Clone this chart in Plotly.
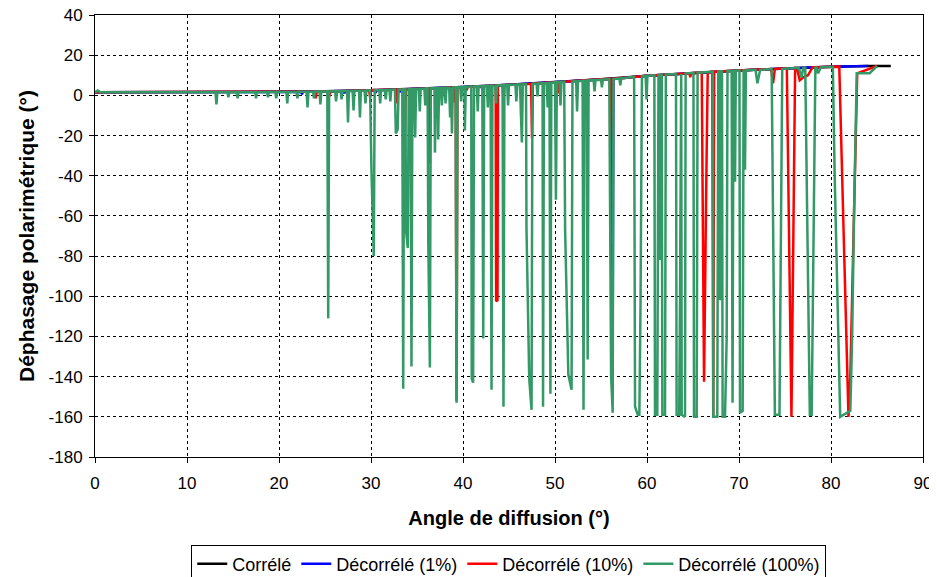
import plotly.graph_objects as go

# ---- data (angle in degrees, phase in degrees) ----
corr_pts = [(0, 1.5), (10, 1.6), (20, 1.7), (25, 2.0), (30, 2.5), (35, 3.3), (40, 4.2), (45, 5.3),
            (50, 6.6), (55, 8.0), (60, 9.8), (65, 11.2), (70, 12.4), (75, 13.4), (80, 14.3),
            (84, 14.6), (86.5, 14.6)]

dec1_pts = [(0, 1.5), (10, 1.6), (20, 1.7), (22.4, 1.8), (22.5, 0.5), (22.6, 1.8), (25, 2.0),
            (27.0, 2.2), (27.1, 1.0), (27.2, 2.2), (30, 2.5), (30.4, 2.6), (30.5, 1.2), (30.6, 2.6),
            (33.0, 2.9), (33.1, 1.5), (33.2, 2.9), (35, 3.3), (38.4, 3.9), (38.5, 2.5), (38.6, 3.9),
            (40, 4.2), (42.0, 4.6), (42.1, 3.0), (42.2, 4.6), (45, 5.3), (50, 6.6), (55, 8.0),
            (56.15, 8.2), (56.25, -151), (56.35, 8.2), (60, 9.8), (65, 11.2), (70, 12.4),
            (75, 13.4), (80, 14.3), (84, 14.6)]

dec10_pts = [(0, 1.5), (10, 1.6), (20, 1.7), (23.9, 1.9), (24.0, -1.5), (24.1, 1.9), (25.4, 2.0),
             (25.5, -0.5), (25.6, 2.0), (29.8, 2.5), (29.9, -1), (30.0, 2.5), (32.7, 2.9), (32.8, -4),
             (32.9, 2.9), (33.6, 3.0), (33.7, -16), (33.8, 3.0), (34.5, 3.1), (34.6, -1), (34.7, 3.1),
             (36.3, 3.5), (36.4, -34), (36.5, 3.5), (37.6, 3.7), (37.7, -1), (37.8, 3.7), (39.0, 4.0),
             (39.1, -3.5), (39.2, 4.0), (39.3, -152), (39.4, 4.0), (40.3, 4.2), (40.4, 2.5), (40.5, 4.2),
             (43.55, 4.9), (43.6, -102.5), (43.75, -102), (43.8, 4.9), (44.3, 5.1), (44.4, -3.5),
             (44.5, 5.1), (47.4, 5.8), (47.5, -21.5), (47.6, 5.8), (50.2, 6.6), (50.3, 1), (50.4, 6.6),
             (55, 8.0), (56.1, 8.2), (56.2, -74), (56.3, 8.2), (60, 9.8), (64.6, 11.0), (64.7, 9),
             (64.8, 11.0), (65.95, 11.4), (66.05, -41), (66.2, -142.5), (66.45, -41), (66.6, 11.5),
             (67.1, 11.8), (67.2, -160), (67.3, 11.8), (70, 12.4), (73.5, 13.1), (73.7, 6), (73.9, 13.2),
             (75.2, 13.5), (75.7, -160), (76.1, 13.6), (76.3, 13.6), (76.6, 7.5), (77.0, 9), (77.5, 10),
             (78.0, 14.0), (80.9, 14.3), (81.3, -60), (81.9, -160), (82.1, -140), (82.5, -60),
             (82.7, -8), (82.85, 11), (85.0, 14.6)]

dec100_pts = [(0, 1.5), (0.3, 2.4), (0.6, 1.5),
              (13.1, 1.6), (13.2, -4.5), (13.3, 1.6), (14.4, 1.6), (14.5, -1), (14.6, 1.6),
              (15.4, 1.6), (15.5, -1.5), (15.6, 1.6), (17.4, 1.6), (17.5, -1.5), (17.6, 1.6),
              (18.7, 1.7), (18.8, -1), (18.9, 1.7), (19.6, 1.7), (19.7, -1.5), (19.8, 1.7),
              (20.8, 1.7), (20.9, -4), (21.0, 1.7), (21.9, 1.8), (22.0, -1.5), (22.1, 1.8),
              (23.0, 1.8), (23.1, -6), (23.2, 1.8), (23.7, 1.9), (23.8, -1.5), (23.9, 1.9),
              (24.4, 1.9), (24.5, -4.5), (24.6, 1.9), (25.25, 2.0), (25.35, -111), (25.45, 2.0),
              (26.1, 2.1), (26.2, -3), (26.3, 2.1), (26.7, 2.2), (26.8, -2), (26.9, 2.2),
              (27.4, 2.2), (27.5, -13.5), (27.6, 2.2), (28.0, 2.3), (28.1, -7.5), (28.2, 2.3),
              (28.7, 2.3), (28.8, -11), (28.9, 2.3), (29.3, 2.4), (29.4, -4), (29.5, 2.4),
              (29.9, 2.5), (30.05, -37), (30.3, -80), (30.4, 2.5), (30.9, 2.6), (31.0, -4), (31.1, 2.6),
              (31.5, 2.7), (31.6, -2), (31.7, 2.7), (32.0, 2.8), (32.1, -3), (32.2, 2.8),
              (32.6, 2.9), (32.7, -19), (32.9, -17), (33.0, 2.9), (33.4, 3.0), (33.5, -146), (33.6, 3.0),
              (33.75, 3.0), (33.8, -67), (34.0, -76), (34.1, 3.1), (34.3, 3.1), (34.4, -135), (34.5, 3.1),
              (34.7, 3.1), (34.8, -21), (34.9, 3.2), (35.2, 3.2), (35.3, -8), (35.4, 3.3),
              (35.8, 3.4), (35.9, -5), (36.0, 3.5), (36.15, 3.5), (36.23, -74), (36.4, -135.5), (36.5, 3.5),
              (36.9, 3.6), (36.95, -28.5), (37.05, 3.6), (37.25, 3.6), (37.3, -22), (37.4, 3.6),
              (37.6, 3.7), (37.7, -5), (37.8, 3.7), (38.0, 3.8), (38.1, -4), (38.2, 3.8),
              (38.5, 3.9), (38.6, -11), (38.7, 3.9), (38.8, -19), (38.9, 3.9), (39.2, 4.0), (39.3, -153),
              (39.4, 4.0), (39.7, 4.1), (39.8, -3), (39.9, 4.1), (40.15, 4.2), (40.2, -17.5), (40.3, 4.2),
              (40.9, 4.4), (40.95, -141), (41.1, -143), (41.2, 4.4), (41.5, 4.5), (41.6, -8), (41.7, 4.5),
              (42.1, 4.6), (42.2, -121), (42.3, 4.6), (42.6, 4.7), (42.7, -6), (42.8, 4.7),
              (43.0, 4.8), (43.1, -146.5), (43.2, 4.8), (43.5, 4.9), (43.6, -4), (43.7, 4.9),
              (44.3, 5.1), (44.4, -155), (44.5, 5.1), (44.8, 5.2), (44.9, -5), (45.0, 5.2),
              (45.7, 5.4), (45.8, -3), (45.9, 5.4), (46.2, 5.5), (46.3, -10), (46.4, -23.5), (46.5, 5.5),
              (46.85, 5.6), (46.9, -66), (47.2, -141), (47.45, -156.5), (47.55, 5.8),
              (48.0, 5.9), (48.1, -0.5), (48.2, 5.9), (48.65, 6.0), (48.7, -155), (48.8, 6.0),
              (49.1, 6.1), (49.2, -6), (49.3, 6.1), (49.4, 6.2), (49.5, -148.5), (49.6, 6.2),
              (50.0, 6.6), (50.1, -52), (50.2, 6.6), (50.5, 6.7), (50.6, -5), (50.7, 6.7),
              (51.0, 6.8), (51.1, -67), (51.45, -139), (51.8, -146.5), (51.9, 6.9),
              (52.3, 7.0), (52.4, -8), (52.5, 7.0), (53.0, 7.3), (53.1, -156.5), (53.2, 7.3),
              (53.45, 7.4), (53.55, -131.5), (53.65, 7.4), (54.2, 7.6), (54.3, 2), (54.4, 7.6),
              (55.0, 7.8), (55.1, 4), (55.2, 7.8), (55.9, 8.1), (56.0, -67), (56.1, -140), (56.27, -158),
              (56.35, 8.2), (57.0, 8.4), (57.1, 5), (57.2, 8.4),
              (58.6, 9.2), (58.7, -155), (59.0, -159), (59.17, -159), (59.3, -102), (59.45, 9.4),
              (59.85, 9.7), (59.95, -2), (60.05, 9.8), (60.8, 10.0), (60.87, -159), (61.12, -159),
              (61.25, 10.1), (61.35, 10.1), (61.41, -82), (61.5, 10.2), (61.6, 10.2), (61.67, -159),
              (61.96, -159), (62.05, 10.4), (63.15, 10.6), (63.22, -159), (63.5, -159), (63.59, -100),
              (63.68, 10.8), (63.72, 10.8), (63.77, -159), (64.13, -160), (64.2, 10.9),
              (65.05, 11.2), (65.11, -160), (65.4, -160), (65.5, 11.3), (67.15, 11.8), (67.21, -160),
              (67.64, -160), (67.75, 11.9), (67.85, 11.9), (67.93, -102), (68.0, 12.0),
              (68.15, 12.0), (68.22, -160), (68.48, -160), (68.66, -121), (68.75, 12.1),
              (69.2, 12.2), (69.3, -153), (69.4, 12.2), (69.5, 12.2), (69.57, -43), (69.65, 12.3),
              (70.05, 12.4), (70.11, -158), (70.4, -157), (70.5, 12.4), (70.6, 12.4), (70.65, -37),
              (70.75, 12.4), (71.8, 12.7), (72.0, 6), (72.3, 12.7),
              (73.55, 13.1), (73.9, -159), (74.4, -159), (74.7, 13.2), (76.5, 13.7), (76.8, 9), (77.0, 13.7),
              (77.2, 13.7), (77.7, -159), (77.9, -159), (78.3, 13.8), (78.4, 13.9), (78.6, 11), (78.9, 14.0),
              (80.2, 14.2), (80.4, -40), (80.6, -80), (80.8, -130), (81.0, -160), (82.1, -157),
              (82.3, -120), (82.5, -60), (82.7, -10), (82.8, 11), (84.2, 11), (85.0, 14.6)]

series_names = ["Corrélé", "Décorrélé (1%)", "Décorrélé (10%)", "Décorrélé (100%)"]
series_colors = ["#000000", "#0000FF", "#FF0000", "#339966"]
series_data = [corr_pts, dec1_pts, dec10_pts, dec100_pts]

x_ticks = [0, 10, 20, 30, 40, 50, 60, 70, 80, 90]
y_ticks = [-180, -160, -140, -120, -100, -80, -60, -40, -20, 0, 20, 40]
y_tick_labels = ["-180", "-160", "-140", "-120", "-100", "-80", "-60", "-40", "-20", "0", "20", "40"]

FONT = "Liberation Sans, Arial, sans-serif"

fig = go.Figure()
for name, color, pts in zip(series_names, series_colors, series_data):
    fig.add_trace(go.Scatter(
        x=[p[0] for p in pts], y=[p[1] for p in pts], mode="lines", name=name,
        line=dict(color=color, width=2.5)))

axis_common = dict(showline=True, linecolor="black", linewidth=1, mirror=True,
                   ticks="outside", ticklen=5, tickcolor="black",
                   showgrid=True, gridcolor="black", gridwidth=1, griddash="dot",
                   zeroline=False, automargin=False, ticklabeloverflow="allow",
                   tickfont=dict(family=FONT, size=17, color="black"))

fig.update_xaxes(range=[0, 90], tickvals=x_ticks, ticklabelstandoff=6,
                 title=dict(text="<b>Angle de diffusion (°)</b>",
                            font=dict(family=FONT, size=20, color="black"), standoff=18),
                 **axis_common)
fig.update_yaxes(range=[-180, 40], tickvals=y_ticks, ticktext=y_tick_labels, ticklabelstandoff=3,
                 title=dict(text="<b>Déphasage polarimétrique (°)</b>",
                            font=dict(family=FONT, size=21, color="black"), standoff=8),
                 **axis_common)

# the page body adds an 8 px offset, so the figure is sized to end at the window edge
fig.update_layout(
    width=929, height=569,
    margin=dict(l=87, r=14, t=7, b=120, autoexpand=False),
    paper_bgcolor="white", plot_bgcolor="white",
    font=dict(family=FONT, size=17, color="black"),
    showlegend=True,
    legend=dict(orientation="h", x=0.539, xanchor="center", xref="container",
                y=0.057, yanchor="top", yref="container",
                bordercolor="black", borderwidth=1, bgcolor="white",
                font=dict(family=FONT, size=18, color="black"),
                itemwidth=30, tracegroupgap=0),
)

fig.write_html("out.html")
